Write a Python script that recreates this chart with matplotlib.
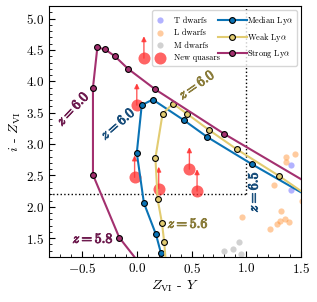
import matplotlib
matplotlib.use("Agg")
import matplotlib.pyplot as plt
import matplotlib.patheffects as pe
from matplotlib.legend_handler import HandlerLine2D

plt.rcParams['font.family'] = 'serif'
plt.rcParams['font.serif'] = ['cmr10']
plt.rcParams['mathtext.fontset'] = 'cm'
plt.rcParams['axes.formatter.use_mathtext'] = True
plt.rcParams['axes.unicode_minus'] = True

# ---- data ----
median_x = [0.26, 0.22, 0.175, 0.065, 0.0, 0.045, 0.145, 0.43, 0.645, 1.05, 1.70]
median_y = [0.95, 1.265, 1.56, 2.06, 2.86, 3.62, 3.71, 3.38, 3.11, 2.68, 2.03]

weak_x = [0.27, 0.25, 0.23, 0.19, 0.17, 0.235, 0.33, 0.46, 0.655, 0.91, 1.30, 1.70]
weak_y = [1.00, 1.44, 1.74, 2.12, 2.78, 3.48, 3.645, 3.48, 3.23, 2.92, 2.49, 2.01]

strong_x = [0.10, -0.16, -0.40, -0.40, -0.36, -0.29, -0.20, -0.08, 0.17, 0.80, 1.80]
strong_y = [0.93, 1.51, 2.51, 3.90, 4.54, 4.51, 4.40, 4.20, 3.87, 3.16, 2.13]

t_x = [1.41, 1.41]
t_y = [2.67, 2.27]

l_x = [1.36, 1.44, 1.365, 1.25, 1.505, 0.96, 1.32, 1.31, 1.35, 1.39, 1.28, 1.22]
l_y = [2.79, 2.84, 2.71, 2.35, 2.10, 1.83, 1.94, 1.78, 1.80, 1.76, 1.73, 1.65]

m_x = [0.80, 0.88, 0.93, 0.955]
m_y = [1.30, 1.32, 1.44, 1.24]

q_x = [0.065, 0.0, -0.02, 0.20, 0.48, 0.55]
q_y = [4.37, 3.62, 2.47, 2.29, 2.60, 2.25]
q_arrow = 0.35

c_med = '#0a73b5'
c_weak = '#e2cc72'
c_strong = '#a3306f'


class WideLine(HandlerLine2D):
    def get_xdata(self, legend, xdescent, ydescent, width, height, fontsize):
        x0 = -xdescent - 1.36 * fontsize
        x1 = -xdescent + width + 1.05 * fontsize
        return [x0, x1], [-xdescent + width]


fig = plt.figure(figsize=(3.17, 3.02), dpi=100)
ax = fig.add_axes([0.155, 0.149, 0.795, 0.831])

# dwarfs
ax.scatter(t_x, t_y, s=20, color='#5555ff', alpha=0.45, lw=0, label='T dwarfs', zorder=2)
ax.scatter(l_x, l_y, s=20, color='#ff8c2a', alpha=0.45, lw=0, label='L dwarfs', zorder=2)
ax.scatter(m_x, m_y, s=20, color='#999999', alpha=0.45, lw=0, label='M dwarfs', zorder=2)

# quasars (lower limits -> upward arrows)
for qx, qy in zip(q_x, q_y):
    ax.annotate('', xy=(qx, qy + q_arrow), xytext=(qx, qy), zorder=3,
                arrowprops=dict(arrowstyle='-|>', color='#ff3333', alpha=0.8, lw=1.0,
                                mutation_scale=7, shrinkA=0, shrinkB=0))
ax.scatter(q_x, q_y, s=75, color='#ff3030', alpha=0.75, lw=0, label='New quasars', zorder=3)

# tracks
mk = dict(marker='o', ms=4.2, mec='black', mew=0.8, lw=1.5)
l1, = ax.plot(median_x, median_y, color=c_med, mfc=c_med, label=r'Median Ly$\alpha$', zorder=4, **mk)
l2, = ax.plot(weak_x, weak_y, color=c_weak, mfc=c_weak, label=r'Weak Ly$\alpha$', zorder=4, **mk)
l3, = ax.plot(strong_x, strong_y, color=c_strong, mfc=c_strong, label=r'Strong Ly$\alpha$', zorder=4, **mk)

# selection cuts
ax.plot([-0.8, 1.0], [2.2, 2.2], ls=':', color='black', lw=1.0, zorder=1)
ax.plot([1.0, 1.0], [2.2, 5.2], ls=':', color='black', lw=1.0, zorder=1)

# labels on tracks
def lab(x, y, s, c, rot, ha='center', va='center'):
    ax.text(x, y, s, color=c, rotation=rot, ha=ha, va=va, fontsize=10, zorder=5,
            rotation_mode='anchor',
            path_effects=[pe.withStroke(linewidth=0.7, foreground=c)])

lab(-0.58, 3.56, r'$z = 6.0$', '#6e1c4f', 47)
lab(-0.17, 3.32, r'$z = 6.0$', '#1a4f7c', 41)
lab(0.55, 3.94, r'$z = 6.0$', '#8a7c3a', 35)
lab(-0.21, 1.49, r'$z = 5.8$', '#6e1c4f', 0, ha='right')
lab(0.28, 1.73, r'$z = 5.6$', '#8a7c3a', 0, ha='left')
lab(1.065, 2.24, r'$z = 6.5$', '#1a4f7c', 90)

ax.set_xlim(-0.8, 1.5)
ax.set_ylim(1.2, 5.2)
ax.set_xticks([-0.5, 0.0, 0.5, 1.0, 1.5])
ax.set_yticks([1.5, 2.0, 2.5, 3.0, 3.5, 4.0, 4.5, 5.0])
ax.minorticks_on()
ax.tick_params(which='both', direction='in', top=False, right=False, labelsize=9.5)
ax.tick_params(which='major', length=4)
ax.tick_params(which='minor', length=2)
ax.set_xlabel(r'$Z_{\rm VI}$ - $Y$', fontsize=10, labelpad=2)
ax.set_ylabel(r'$i$ - $Z_{\rm VI}$', fontsize=10, labelpad=2)

wl = WideLine()
ax.legend(loc='upper right', ncol=2, fontsize=6.0, handlelength=1.1, handletextpad=1.1,
          columnspacing=1.1, labelspacing=0.5, borderpad=0.4, framealpha=0.8,
          borderaxespad=0.5, handler_map={l1: wl, l2: wl, l3: wl})

fig.savefig('out.png', dpi=100)
